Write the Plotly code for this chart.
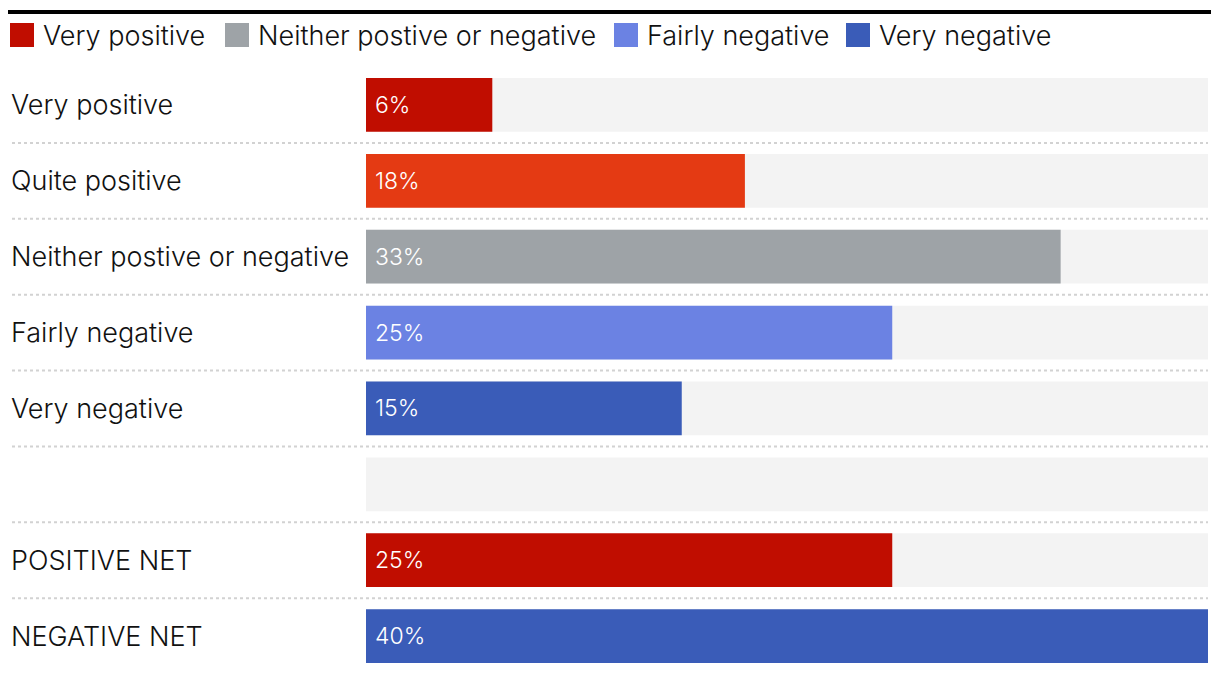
import plotly.graph_objects as go

categories = ["Very positive", "Quite positive", "Neither postive or negative",
              "Fairly negative", "Very negative", " ", "POSITIVE NET", "NEGATIVE NET"]
values = [6, 18, 33, 25, 15, None, 25, 40]
bar_colors = ["#c00d00", "#e43a13", "#9ea3a7", "#6b82e3", "#3a5cb8", "#f2f2f2", "#c00d00", "#3a5cb8"]
track_max = 40
track_color = "#f3f3f3"

legend_names = ["Very positive", "Neither postive or negative", "Fairly negative", "Very negative"]
legend_colors = ["#c00d00", "#9ea3a7", "#6b82e3", "#3a5cb8"]
legend_px = [10, 225, 614, 846]  # left page pixel of each legend swatch

FONT = "Inter, Roboto, sans-serif"
OFF = 8  # page body margin
W, H = 1220 - OFF, 676 - OFF
ML, MR, MT, MB = 366 - OFF, 12, 67 - OFF, 2
PW = W - ML - MR
PH = H - MT - MB

def px_x(p):
    return (p - OFF - ML) / PW

def px_y(p):
    return (H - MB - (p - OFF)) / PH

fig = go.Figure()
fig.add_trace(go.Bar(y=categories, x=[track_max] * len(categories), orientation="h",
                     marker=dict(color=track_color, line=dict(width=0)),
                     hoverinfo="skip", showlegend=False))
fig.add_trace(go.Bar(y=categories, x=values, orientation="h",
                     marker=dict(color=bar_colors, line=dict(width=0)),
                     showlegend=False))

annotations = []
for c, v in zip(categories, values):
    annotations.append(dict(x=px_x(9), xref="paper", y=c, yref="y", text=c.strip(),
                            showarrow=False, xanchor="left", yanchor="middle",
                            font=dict(family=FONT, size=27, color="#111111", weight=300)))
    if v is not None:
        annotations.append(dict(x=0, xref="x", y=c, yref="y", text=f"{v}%",
                                showarrow=False, xanchor="left", yanchor="middle", xshift=7,
                                font=dict(family=FONT, size=23, color="#ffffff", weight=300)))

shapes = []
for i in range(len(categories) - 1):
    shapes.append(dict(type="line", xref="paper", yref="y", x0=px_x(12), x1=1,
                       y0=i + 0.5, y1=i + 0.5,
                       line=dict(color="#d2d2d2", width=2, dash="dot")))
shapes.append(dict(type="line", xref="paper", yref="paper", x0=px_x(8), x1=px_x(1211),
                   y0=px_y(12), y1=px_y(12), line=dict(color="#000000", width=4)))
for name, col, lx in zip(legend_names, legend_colors, legend_px):
    shapes.append(dict(type="rect", xref="paper", yref="paper",
                       x0=px_x(lx), x1=px_x(lx + 24), y0=px_y(23), y1=px_y(47),
                       fillcolor=col, line=dict(width=0)))
    annotations.append(dict(x=px_x(lx + 31), xref="paper", y=px_y(35), yref="paper",
                            text=name, showarrow=False, xanchor="left", yanchor="middle",
                            font=dict(family=FONT, size=27, color="#111111", weight=300)))

fig.update_layout(
    width=W, height=H, barmode="overlay", bargap=0.29,
    margin=dict(l=ML, r=MR, t=MT, b=MB),
    paper_bgcolor="white", plot_bgcolor="white",
    xaxis=dict(range=[0, track_max], visible=False, fixedrange=True),
    yaxis=dict(autorange="reversed", showticklabels=False, showgrid=False,
               zeroline=False, fixedrange=True),
    annotations=annotations, shapes=shapes, showlegend=False,
)
fig.write_html("out.html")
